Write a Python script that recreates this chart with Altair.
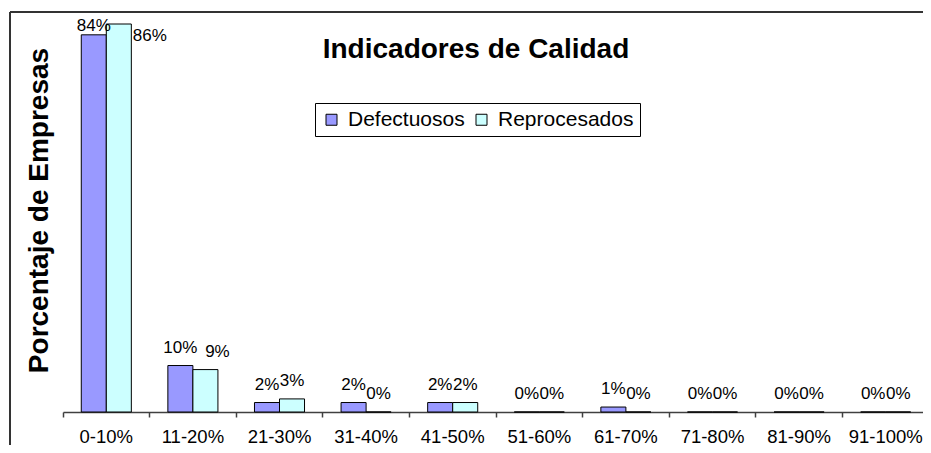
import altair as alt
import pandas as pd

categories = ["0-10%", "11-20%", "21-30%", "31-40%", "41-50%",
              "51-60%", "61-70%", "71-80%", "81-90%", "91-100%"]
defectuosos = [0.836, 0.103, 0.021, 0.021, 0.021, 0.0, 0.011, 0.0, 0.0, 0.0]
reprocesados = [0.86, 0.094, 0.029, 0.0, 0.021, 0.0, 0.0, 0.0, 0.0, 0.0]
series = ["Defectuosos", "Reprocesados"]
colors = ["#9999FF", "#CCFFFF"]

rows = []
for i, c in enumerate(categories):
    rows.append({"cat": c, "serie": series[0], "val": defectuosos[i], "idx": i})
    rows.append({"cat": c, "serie": series[1], "val": reprocesados[i], "idx": i})
df = pd.DataFrame(rows)

FONT = "Liberation Sans"

x_enc = alt.X("cat:N", sort=categories,
              scale=alt.Scale(paddingInner=0, paddingOuter=0),
              axis=alt.Axis(title=None, bandPosition=0, labelAngle=0,
                            labelFont=FONT, labelFontSize=18.5, labelColor="black",
                            labelPadding=10, tickSize=5, tickColor="#404040",
                            tickWidth=1.5, domainColor="#404040", domainWidth=1.5,
                            grid=False))
xoff = alt.XOffset("serie:N", sort=series,
                   scale=alt.Scale(domain=series, paddingInner=0, paddingOuter=0.73))
y_enc = alt.Y("val:Q", scale=alt.Scale(domain=[0, 0.86], nice=False),
              axis=alt.Axis(title="Porcentaje de Empresas", labels=False, ticks=False,
                            domain=False, grid=False, titleFont=FONT,
                            titleFontSize=28, titleFontWeight="bold",
                            titleColor="black", titleAngle=270,
                            titleBaseline="alphabetic", titleAlign="center",
                            titleX=-16, titleY=186))

base = alt.Chart(df)

bars = base.mark_bar(stroke="black", strokeWidth=1).encode(
    x=x_enc, xOffset=xoff, y=y_enc,
    color=alt.Color("serie:N", sort=series,
                    scale=alt.Scale(domain=series, range=colors),
                    legend=alt.Legend(title=None, orient="none", legendX=252, legendY=79,
                                      direction="horizontal", fillColor="white",
                                      strokeColor="black", padding=6,
                                      labelFont=FONT, labelFontSize=21,
                                      labelColor="black", symbolType="square",
                                      symbolSize=121, symbolStrokeColor="black",
                                      symbolStrokeWidth=1, labelOffset=6,
                                      columnPadding=6)),
)

def labels(filt, **kw):
    opts = dict(font=FONT, fontSize=17, color="black", baseline="alphabetic", dy=-13)
    opts.update(kw)
    return base.transform_filter(filt).mark_text(**opts).encode(
        x=x_enc, xOffset=xoff, y=y_enc, text=alt.Text("val:Q", format=".0%"))

lbl_main = labels("datum.idx > 0 && !(datum.idx == 1 && datum.serie == 'Reprocesados')")
lbl_shift = labels("datum.idx == 1 && datum.serie == 'Reprocesados'", dx=12)
lbl_first_def = labels("datum.idx == 0 && datum.serie == 'Defectuosos'", dy=-4)
lbl_first_rep = labels("datum.idx == 0 && datum.serie == 'Reprocesados'",
                       baseline="middle", align="left", dx=14, dy=12)

title = alt.Chart(pd.DataFrame({"t": ["Indicadores de Calidad"]})).mark_text(
    font=FONT, fontSize=28, fontWeight="bold", color="black",
    align="center", baseline="alphabetic"
).encode(x=alt.value(413), y=alt.value(34), text="t:N")

frame_top = alt.Chart(pd.DataFrame({"a": [0]})).mark_rule(
    color="#333333", strokeWidth=2).encode(
    x=alt.value(-53), x2=alt.value(900), y=alt.value(-12))
frame_left = alt.Chart(pd.DataFrame({"a": [0]})).mark_rule(
    color="#333333", strokeWidth=2).encode(
    x=alt.value(-53), y=alt.value(-12), y2=alt.value(500))

chart = alt.layer(bars, lbl_main, lbl_shift, lbl_first_def, lbl_first_rep, title,
                  frame_top, frame_left).properties(
    width=866, height=388,
    autosize=alt.AutoSizeParams(type="none"),
    padding={"left": 55, "top": 16, "right": -6, "bottom": 33},
    background="white",
).configure_view(stroke="transparent")

chart.save("out.html", embed_options={"renderer": "svg", "actions": False})
